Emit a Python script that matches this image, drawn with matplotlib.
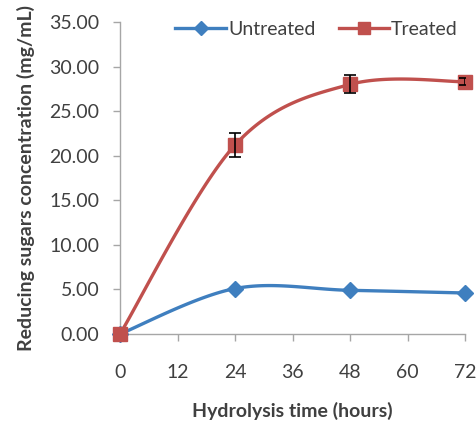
import numpy as np
import matplotlib
matplotlib.use("Agg")
import matplotlib.pyplot as plt
from matplotlib.lines import Line2D

time_h = [0, 24, 48, 72]
untreated = [0.0, 5.1, 4.9, 4.6]
treated = [0.0, 21.2, 28.0, 28.3]
treated_err = [0.0, 1.3, 1.0, 0.4]
x_ticks = [0, 12, 24, 36, 48, 60, 72]
y_ticks = [0, 5, 10, 15, 20, 25, 30, 35]

plt.rcParams['font.family'] = ['Lato', 'DejaVu Sans']
TXT = '#404040'
BLUE = '#3F7FBF'
RED = '#C0504D'


def excel_smooth(x, y, n=40):
    x = np.asarray(x, float); y = np.asarray(y, float)
    P = np.column_stack([x, y])
    m = len(P)
    out = [P[0]]
    for i in range(m - 1):
        p0 = P[i - 1] if i > 0 else P[i]
        p1 = P[i]
        p2 = P[i + 1]
        p3 = P[i + 2] if i + 2 < m else P[i + 1]
        c1 = p1 + (p2 - p0) / 6.0
        c2 = p2 - (p3 - p1) / 6.0
        t = np.linspace(0, 1, n)[1:, None]
        seg = ((1 - t) ** 3) * p1 + 3 * ((1 - t) ** 2) * t * c1 + 3 * (1 - t) * t ** 2 * c2 + t ** 3 * p2
        out.extend(seg)
    out = np.array(out)
    return out[:, 0], out[:, 1]


fig = plt.figure(figsize=(4.77, 4.23), dpi=100)
ax = fig.add_axes([0.2516, 0.2104, 0.7234, 0.7376])

sx, sy = excel_smooth(time_h, untreated)
ax.plot(sx, sy, color=BLUE, lw=2.4, zorder=3, solid_capstyle='round', clip_on=False)
ax.plot(time_h, untreated, ls='none', marker='D', ms=8, color=BLUE, zorder=4, clip_on=False)

sx, sy = excel_smooth(time_h, treated)
ax.plot(sx, sy, color=RED, lw=2.4, zorder=3, solid_capstyle='round', clip_on=False)
te = np.asarray(treated_err)
mask = te > 0
ax.errorbar(np.asarray(time_h)[mask], np.asarray(treated)[mask], yerr=te[mask], fmt='none',
            ecolor='black', elinewidth=1.2, capsize=4, capthick=1.2, zorder=5)
ax.plot(time_h, treated, ls='none', marker='s', ms=10, color=RED, zorder=4, clip_on=False)

ax.set_xlim(0, 72)
ax.set_ylim(0, 35)
ax.set_xticks(x_ticks)
ax.set_xticklabels([str(v) for v in x_ticks])
ax.set_yticks(y_ticks)
ax.set_yticklabels([f"{v:.2f}" for v in y_ticks])

for s in ['top', 'right']:
    ax.spines[s].set_visible(False)
for s in ['left', 'bottom']:
    ax.spines[s].set_color('#A6A6A6')
    ax.spines[s].set_linewidth(1.0)
ax.tick_params(axis='both', direction='out', length=5, width=1.0, color='#A6A6A6',
               labelsize=14, labelcolor=TXT)
ax.tick_params(axis='x', pad=16.5)
ax.tick_params(axis='y', pad=10)

ax.set_xlabel('Hydrolysis time (hours)', fontsize=14, fontweight='bold', color=TXT, labelpad=15)
ax.set_ylabel('Reducing sugars concentration (mg/mL)', fontsize=14, fontweight='bold', color=TXT, labelpad=10)

handles = [Line2D([], [], color=BLUE, lw=2.4, marker='D', ms=7),
           Line2D([], [], color=RED, lw=2.4, marker='s', ms=9)]
leg = ax.legend(handles, ['Untreated', 'Treated'], loc='upper center', ncol=2,
                bbox_to_anchor=(0.57, 1.06), frameon=False, fontsize=14,
                handlelength=2.6, handletextpad=0.1, columnspacing=1.2)
for t in leg.get_texts():
    t.set_color(TXT)

fig.savefig('out.png', dpi=100)
